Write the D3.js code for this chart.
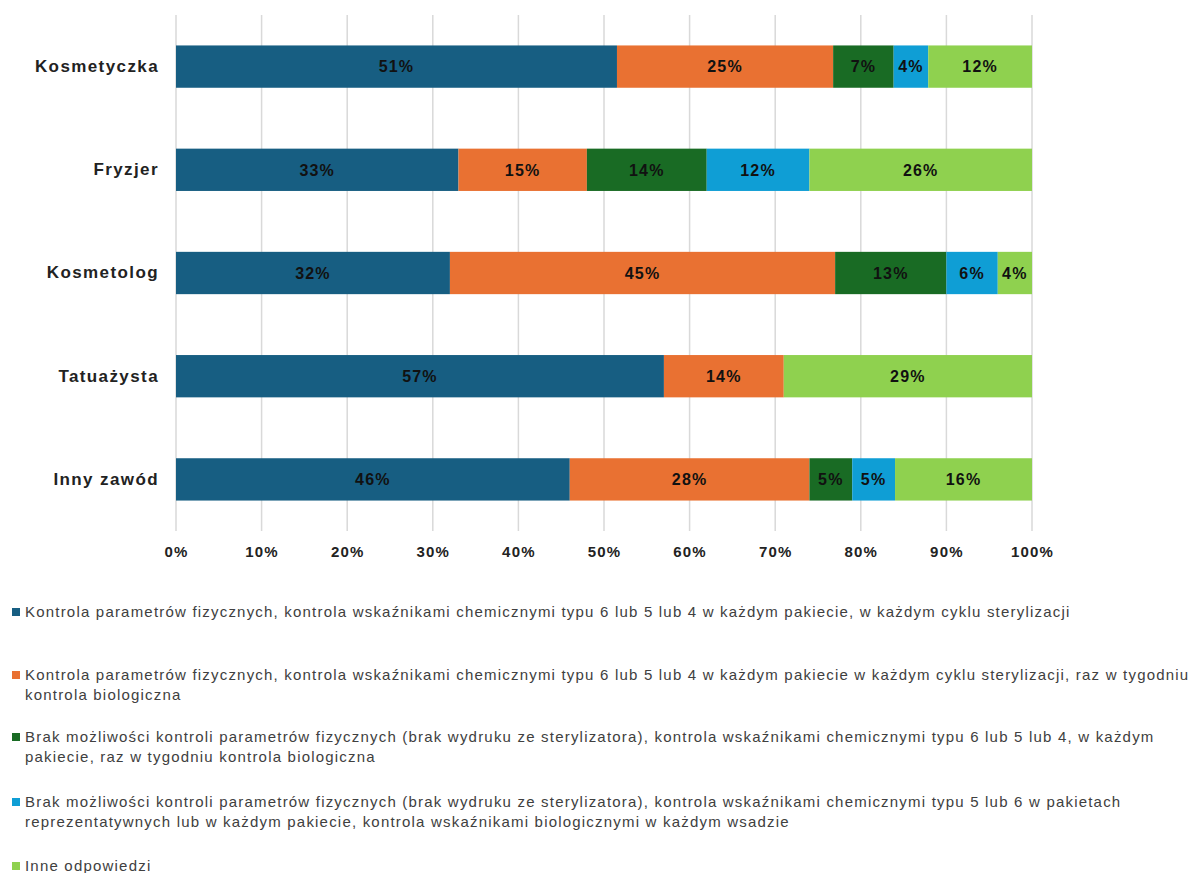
<!DOCTYPE html>
<html>
<head>
<meta charset="utf-8">
<script src="https://cdn.jsdelivr.net/npm/d3@7"></script>
<style>
  html, body { margin: 0; padding: 0; background: #fff; }
  svg { display: block; }
</style>
</head>
<body>
<svg id="chart" width="1196" height="873"></svg>
<script>
const categories = ["Kosmetyczka", "Fryzjer", "Kosmetolog", "Tatuażysta", "Inny zawód"];
const seriesNames = [
  "Kontrola parametrów fizycznych, kontrola wskaźnikami chemicznymi typu 6 lub 5 lub 4 w każdym pakiecie, w każdym cyklu sterylizacji",
  "Kontrola parametrów fizycznych, kontrola wskaźnikami chemicznymi typu 6 lub 5 lub 4 w każdym pakiecie w każdym cyklu sterylizacji, raz w tygodniu\nkontrola biologiczna",
  "Brak możliwości kontroli parametrów fizycznych (brak wydruku ze sterylizatora), kontrola wskaźnikami chemicznymi typu 6 lub 5 lub 4, w każdym\npakiecie, raz w tygodniu kontrola biologiczna",
  "Brak możliwości kontroli parametrów fizycznych (brak wydruku ze sterylizatora), kontrola wskaźnikami chemicznymi typu 5 lub 6 w pakietach\nreprezentatywnych lub w każdym pakiecie, kontrola wskaźnikami biologicznymi w każdym wsadzie",
  "Inne odpowiedzi"
];
const seriesA = [51, 33, 32, 57, 46];
const seriesB = [25, 15, 45, 14, 28];
const seriesC = [7, 14, 13, 0, 5];
const seriesD = [4, 12, 6, 0, 5];
const seriesE = [12, 26, 4, 29, 16];
const colors = ["#175E82", "#E97132", "#196B24", "#0F9ED5", "#8FD14F"];
const tickValues = [0, 0.1, 0.2, 0.3, 0.4, 0.5, 0.6, 0.7, 0.8, 0.9, 1.0];

const allSeries = [seriesA, seriesB, seriesC, seriesD, seriesE];
const keys = ["s0", "s1", "s2", "s3", "s4"];
const rows = categories.map((c, i) => {
  const r = { category: c };
  keys.forEach((k, j) => r[k] = allSeries[j][i]);
  return r;
});

const FONT = "'Liberation Sans', Arial, sans-serif";
const svg = d3.select("#chart");
const x = d3.scaleLinear().domain([0, 1]).range([176, 1032]);
const y = d3.scaleBand().domain(categories).range([15, 531]).paddingInner(0.59).paddingOuter(0.295);

// gridlines
svg.append("g").selectAll("line").data(tickValues).join("line")
  .attr("x1", d => x(d)).attr("x2", d => x(d))
  .attr("y1", 15).attr("y2", 531)
  .attr("stroke", "#d9d9d9").attr("stroke-width", 1.5);

const stack = d3.stack().keys(keys).offset(d3.stackOffsetExpand);
const stacked = stack(rows);

const groups = svg.append("g").selectAll("g").data(stacked).join("g")
  .attr("fill", (d, i) => colors[i]);
groups.selectAll("rect").data(d => d).join("rect")
  .attr("x", d => x(d[0]))
  .attr("y", d => y(d.data.category))
  .attr("width", d => Math.max(0, x(d[1]) - x(d[0])))
  .attr("height", y.bandwidth());

// value labels
stacked.forEach((s, si) => {
  svg.append("g").selectAll("text").data(s.filter(d => d.data[s.key] > 0)).join("text")
    .attr("x", d => (x(d[0]) + x(d[1])) / 2)
    .attr("y", d => y(d.data.category) + y.bandwidth() / 2)
    .attr("dy", "0.36em")
    .attr("text-anchor", "middle")
    .attr("font-family", FONT)
    .attr("font-weight", "bold")
    .attr("font-size", 16)
    .attr("letter-spacing", 1.2)
    .attr("fill", "#111")
    .text(d => d.data[s.key] + "%");
});

// category axis labels
const yAxis = d3.axisLeft(y).tickSize(0).tickPadding(0);
const gy = svg.append("g").attr("transform", "translate(159,0)").call(yAxis);
gy.select(".domain").remove();
gy.selectAll("text")
  .attr("font-family", FONT)
  .attr("font-weight", "bold")
  .attr("font-size", 17)
  .attr("letter-spacing", 1.4)
  .attr("fill", "#222");

// x axis labels
const xAxis = d3.axisBottom(x).tickValues(tickValues).tickSize(0).tickPadding(0).tickFormat(d3.format(".0%"));
const gx = svg.append("g").attr("transform", "translate(0,546)").call(xAxis);
gx.select(".domain").remove();
gx.selectAll("text")
  .attr("font-family", FONT)
  .attr("font-weight", "bold")
  .attr("font-size", 15)
  .attr("letter-spacing", 1.2)
  .attr("fill", "#222");

// legend
const legendY = [612, 675, 737, 802, 866];
const leg = svg.append("g").selectAll("g").data(seriesNames).join("g")
  .attr("transform", (d, i) => `translate(0,${legendY[i]})`);
leg.append("rect").attr("x", 12).attr("y", -4).attr("width", 8).attr("height", 8)
  .attr("fill", (d, i) => colors[i]);
leg.append("text")
  .attr("x", 25)
  .attr("font-family", FONT)
  .attr("font-size", 15)
  .attr("letter-spacing", 1.2)
  .attr("fill", "#404040")
  .selectAll("tspan").data(d => d.split("\n")).join("tspan")
  .attr("x", 25)
  .attr("y", (d, i) => i * 20)
  .attr("dy", "0.35em")
  .text(d => d);
</script>
</body>
</html>
